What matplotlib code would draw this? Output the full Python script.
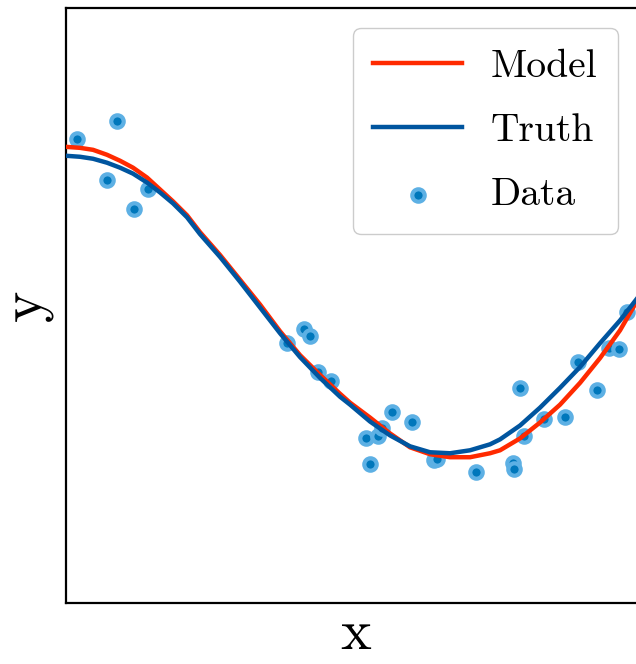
import numpy as np
import matplotlib.pyplot as plt

plt.rcParams['font.family'] = ['cmr10', 'DejaVu Serif']
plt.rcParams['mathtext.fontset'] = 'cm'
plt.rcParams['axes.formatter.use_mathtext'] = True

# Dane punktowe
x_data = [0.19, 0.88, 0.71, 1.17, 1.41, 3.81, 4.10, 4.21, 4.34, 4.57,
          5.17, 5.24, 5.38, 5.45, 5.62, 5.97, 6.34, 6.40, 7.07, 7.71,
          7.72, 7.83, 7.90, 8.24, 8.60, 8.83, 9.16, 9.36, 9.53, 9.67]
y_data = [1.68, 1.86, 1.27, 0.97, 1.18, -0.38, -0.24, -0.31, -0.67, -0.76,
          -1.34, -1.60, -1.32, -1.24, -1.07, -1.17, -1.56, -1.55, -1.68, -1.59,
          -1.65, -0.83, -1.32, -1.14, -1.12, -0.57, -0.85, -0.43, -0.44, -0.07]

# Krzywe
x_curve = [0.000, 0.241, 0.466, 0.707, 0.931, 1.155, 1.397, 1.621, 1.845, 2.086,
           2.310, 2.655, 3.000, 3.345, 3.690, 4.034, 4.379, 4.724, 4.897, 5.241,
           5.586, 5.931, 6.276, 6.621, 6.966, 7.310, 7.483, 7.828, 8.172, 8.517,
           8.862, 9.207, 9.552, 9.897]
y_truth = [1.51, 1.50, 1.48, 1.44, 1.39, 1.33, 1.24, 1.14, 1.03, 0.89,
           0.72, 0.49, 0.24, -0.02, -0.28, -0.52, -0.73, -0.92, -1.00, -1.17,
           -1.31, -1.42, -1.48, -1.49, -1.46, -1.40, -1.35, -1.21, -1.03, -0.83,
           -0.62, -0.38, -0.15, 0.11]
y_model = [1.60, 1.59, 1.57, 1.52, 1.46, 1.39, 1.29, 1.17, 1.05, 0.91,
           0.74, 0.51, 0.26, 0.01, -0.26, -0.50, -0.70, -0.89, -0.98, -1.13,
           -1.29, -1.43, -1.50, -1.53, -1.53, -1.49, -1.46, -1.34, -1.18, -1.00,
           -0.78, -0.53, -0.25, 0.10]

fig = plt.figure(figsize=(6.36, 6.64), dpi=100)
ax = fig.add_axes([0.1038, 0.0919, 0.912, 0.896])

ax.plot(x_curve, y_model, color='#ff2a00', lw=3.2, label='Model', zorder=3,
        solid_joinstyle='round')
ax.plot(x_curve, y_truth, color='#00559f', lw=3.2, label='Truth', zorder=4,
        solid_joinstyle='round')
ax.scatter(x_data, y_data, s=80, color='#0077bb', edgecolors='#5db0e4',
           linewidths=3.0, label='Data', zorder=2)

ax.set_xlim(0, 10)
ax.set_ylim(-3, 3)
ax.set_xticks([])
ax.set_yticks([])
for s in ax.spines.values():
    s.set_linewidth(1.6)

ax.set_xlabel('x', fontsize=42, labelpad=4)
ax.set_ylabel('y', fontsize=43, labelpad=9)

ax.legend(loc='upper right', bbox_to_anchor=(0.952, 0.966), borderaxespad=0,
          fontsize=28.5, handlelength=2.23, handletextpad=0.74, labelspacing=0.72,
          borderpad=0.52, framealpha=1, edgecolor='#cccccc', fancybox=True)

plt.savefig('out.png', dpi=100)
